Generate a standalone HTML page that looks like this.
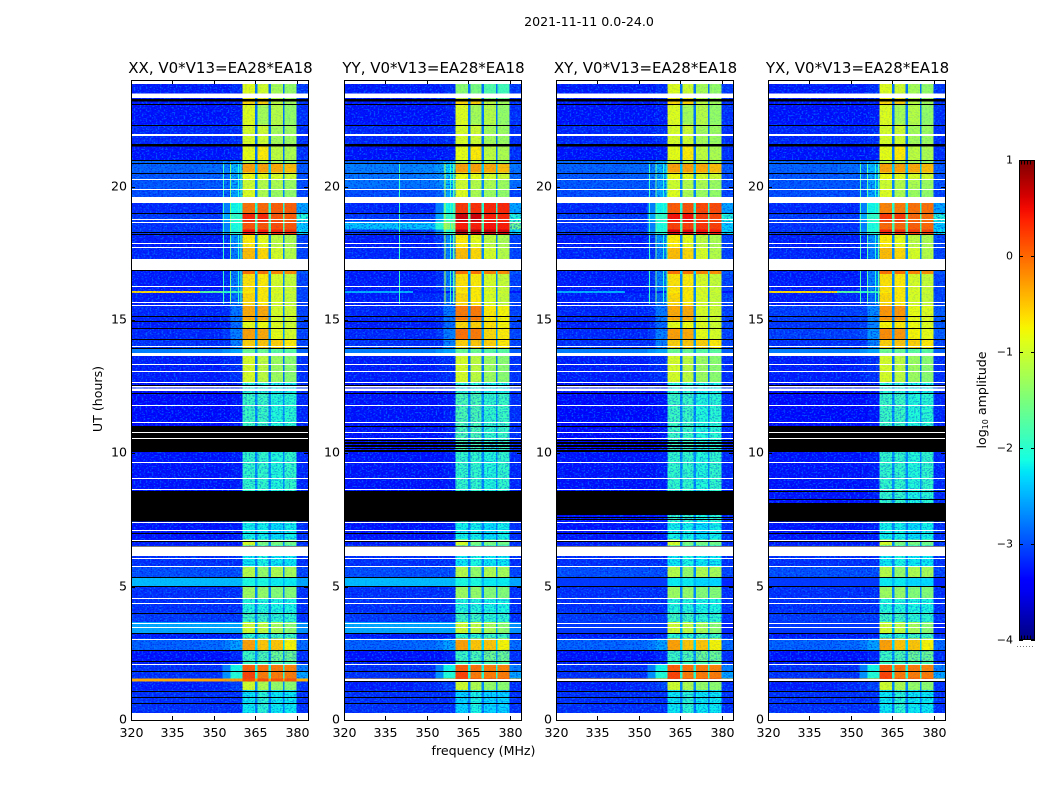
<!DOCTYPE html>
<html lang="en">
<head>
<meta charset="utf-8">
<title>2021-11-11 0.0-24.0</title>
<style>
html,body{margin:0;padding:0;background:#fff;width:1050px;height:800px;overflow:hidden}
svg{display:block}
text{font-family:"DejaVu Sans","Liberation Sans",sans-serif;fill:#000}
</style>
</head>
<body>
<svg id="figure" xmlns="http://www.w3.org/2000/svg" width="1050" height="800" viewBox="0 0 1050 800">
  <defs>
    <filter id="speckle-light" x="0" y="0" width="100%" height="100%" color-interpolation-filters="sRGB">
      <feTurbulence type="fractalNoise" baseFrequency="0.5 0.65" numOctaves="1" seed="4"/>
      <feColorMatrix type="matrix" values="0 0 0 0 0  0 0 0 0 0.58  0 0 0 0 1  7 0 0 0 -3.6"/>
    </filter>
    <filter id="speckle-dark" x="0" y="0" width="100%" height="100%" color-interpolation-filters="sRGB">
      <feTurbulence type="fractalNoise" baseFrequency="0.55 0.7" numOctaves="1" seed="11"/>
      <feColorMatrix type="matrix" values="0 0 0 0 0  0 0 0 0 0  0 0 0 0 0.85  7 0 0 0 -3.6"/>
    </filter>
    <linearGradient id="jet-gradient" x1="0" y1="1" x2="0" y2="0"></linearGradient>
  </defs>
  <text x="589" y="26" font-size="12.6" text-anchor="middle">2021-11-11 0.0-24.0</text>
  <text x="483.5" y="755" font-size="12.6" text-anchor="middle">frequency (MHz)</text>
  <text x="0" y="0" font-size="12.6" text-anchor="middle" transform="translate(102 399) rotate(-90)">UT (hours)</text>
  <text x="0" y="0" font-size="12.6" text-anchor="middle" transform="translate(986 400) rotate(-90)">log<tspan font-size="8" dy="2">10</tspan><tspan dy="-2"> amplitude</tspan></text>
  <g id="panels"></g>
  <g id="colorbar"></g>
</svg>
<script>
// ---------- chart data ----------
const panelTitles = ["XX, V0*V13=EA28*EA18", "YY, V0*V13=EA28*EA18", "XY, V0*V13=EA28*EA18", "YX, V0*V13=EA28*EA18"];
const xTicks = [320, 335, 350, 365, 380];
const yTicks = [0, 5, 10, 15, 20];
const colorbarTicks = [1, 0, -1, -2, -3, -4];

// channel edges in MHz and the amplitude column each channel reads
const channelEdges = [320, 345, 353, 356, 360.4, 364.8, 365.8, 369.8, 370.6, 374.9, 375.5, 379.9, 384];
const channelColumn = [0, 1, 2, 3, 4, 8, 5, 8, 6, 8, 7, 9];

// start (upper) hour of every time block
const rowTopHours = [24, 23.3, 23.1, 22.33, 21.56, 21, 20.87, 20.53, 20.29, 19.93, 19.39, 19, 18.69, 18.4, 18.19, 17.72, 16.88, 16.73, 16.08, 16.02, 15.56, 14.98, 14.7, 14.29, 13.95, 13.65, 12.68, 12.28, 10.05, 8.59, 7.43, 6.77, 6.54, 5.78, 5.36, 4.99, 4.58, 4.05, 3.68, 3.26, 3.06, 2.63, 2.19, 2.1, 1.82, 1.55, 1.45, 1.13];

// log10 amplitude: bg, mid, near1, near2, band1, band2, band3, band4, notch, out
const amplitudeRows = [
[-3.25,-3.25,-3.25,-3.15,-0.9,-1,-1.25,-1.35,-2.8,-3.1],
[-3.25,-3.25,-3.25,-3.2,-0.6,-0.55,-1.1,-1.25,-2.75,-3.15],
[-3.3,-3.3,-3.3,-3.25,-0.9,-1.25,-1.15,-1.35,-2.8,-3.15],
[-3.2,-3.2,-3.2,-3.15,-0.95,-1,-1.25,-1.3,-2.8,-3.15],
[-3.3,-3.3,-3.3,-3.25,-0.85,-0.7,-1.1,-1.2,-2.8,-3.15],
[-2.85,-2.85,-2.75,-2.55,-1.2,-1.2,-1.3,-1.4,-2.75,-2.95],
[-2.9,-2.85,-2.75,-2.45,-0.3,-0.3,-0.35,-0.45,-2.4,-2.95],
[-2.95,-2.9,-2.8,-2.55,-0.8,-0.85,-0.95,-1,-2.6,-3],
[-2.95,-2.95,-2.85,-2.55,-1,-1.15,-1.2,-1.3,-2.7,-3],
[-3,-3,-2.9,-2.55,-0.9,-1.2,-1.3,-1.35,-2.7,-3.05],
[-3.2,-3.2,-2.75,-2.15,-0.05,0,0.05,0.05,-2,-2.55],
[-3.1,-3.1,-2.55,-1.95,0.35,0.35,0.1,0.05,-1.7,-2.05],
[-3.15,-3.15,-2.75,-2.1,0.1,0.1,0.15,0.1,-1.8,-2.35],
[-3.1,-3.05,-2.65,-2.05,0.45,0.4,0.35,0.3,-1.7,-2.25],
[-3.25,-3.25,-3.1,-2.65,-0.7,-0.85,-1.1,-1.2,-2.7,-3.05],
[-3.2,-3.2,-3.15,-2.75,-0.45,-0.6,-0.95,-1.15,-2.7,-3.05],
[-3.25,-3.25,-3.15,-2.75,-0.05,-0.05,-0.15,-0.2,-2.3,-2.95],
[-3.25,-3.25,-3.15,-2.75,-0.65,-0.7,-0.95,-1.05,-2.7,-3.05],
[-0.6,-1.7,-2,-1.9,-0.7,-0.7,-0.9,-1,-2.7,-3.05],
[-3.25,-3.2,-3.15,-2.85,-0.6,-0.7,-0.95,-1.05,-2.7,-3.05],
[-3.2,-3.2,-3.15,-2.8,-0.35,-0.35,-0.95,-1,-2.7,-3.05],
[-3.25,-3.25,-3.2,-2.85,-0.85,-0.8,-0.9,-1,-2.7,-3.05],
[-3.2,-3.2,-3.1,-2.75,-0.3,-0.35,-0.85,-0.95,-2.6,-3.05],
[-3.15,-3.15,-3.15,-2.75,-0.55,-0.5,-0.55,-0.7,-2.6,-3.05],
[-2.75,-2.75,-2.65,-2.55,-1.6,-1.6,-1.7,-1.7,-2.6,-2.9],
[-3.25,-3.25,-3.2,-3.15,-0.95,-1.1,-1.3,-1.4,-2.8,-3.15],
[-3.3,-3.3,-3.3,-3.25,-2.05,-2.05,-2.15,-2.15,-2.7,-3.15],
[-3.35,-3.35,-3.35,-3.3,-1.9,-1.9,-2.05,-2,-2.65,-3.2],
[-3.3,-3.3,-3.3,-3.25,-1.95,-1.95,-2.05,-1.95,-2.65,-3.2],
[-3.3,-3.3,-3.3,-3.25,-1.95,-1.95,-2.1,-2,-2.65,-3.2],
[-3.3,-3.3,-3.3,-3.25,-2.15,-2.15,-2.25,-2.15,-2.7,-3.15],
[-3.25,-3.25,-3.25,-3.25,-0.95,-1.5,-1.5,-1.55,-2.7,-3.15],
[-3.15,-3.15,-3.15,-3.15,-2.2,-2.1,-2.2,-2.2,-2.7,-3.15],
[-3,-3,-3,-3,-1.15,-1.35,-1.2,-1.25,-2.7,-3.05],
[-2.45,-2.45,-2.45,-2.45,-2.1,-2.1,-2.2,-2.2,-2.45,-2.55],
[-3.15,-3.15,-3.15,-3.15,-1.3,-1.35,-1.45,-1.45,-2.7,-3.15],
[-3.15,-3.15,-3.15,-3.15,-2.05,-2.05,-2.1,-2.1,-2.7,-3.15],
[-3.1,-3.1,-3.1,-3.1,-1.9,-1.9,-2,-2,-2.65,-3.15],
[-2.55,-2.55,-2.55,-2.55,-1,-1.1,-1.25,-1.4,-2.5,-2.65],
[-3.25,-3.25,-3.25,-3.2,-2,-2,-1.9,-1.9,-2.7,-3.15],
[-2.9,-2.85,-2.75,-2.55,-0.3,-0.5,-0.5,-0.75,-2.3,-2.85],
[-3.3,-3.3,-3.3,-3.2,-1.9,-1.8,-1.6,-1.6,-2.6,-3.15],
[-3.25,-3.25,-3.2,-3.15,-1.9,-1.9,-1.8,-1.8,-2.6,-3.15],
[-3.15,-3.15,-2.75,-2.15,0.05,-0.05,-0.1,-0.15,-2.1,-2.75],
[-3.15,-3.15,-2.65,-2.05,0.2,-0.1,-0.1,-0.1,-2,-2.55],
[-0.35,-0.3,-0.3,-0.3,0.15,0.15,0.1,0.1,-0.3,-0.4],
[-3.25,-3.2,-3.15,-3.05,-1,-1.2,-1.35,-1.4,-2.7,-3.15],
[-3.15,-3.15,-3.15,-3.15,-2.2,-2,-2.2,-2.2,-2.75,-3.15]
];

// polarisation differences: panel, upper hour, lower hour, background delta, band delta
const panelAdjustments = [
[1,24,23.3,0,-0.5],[1,20.9,19.4,0.15,0],[1,19.39,18.19,0,0.3],[1,18.69,18.4,0.75,0],
[1,16.08,16.02,-1.9,0],[1,15.6,13.96,0,0.25],[1,12.3,8.6,0.05,0.1],[1,1.13,0,0,-0.1],
[2,19.39,18.19,0,0.12],[2,16.08,16.02,-1.9,0],[2,5.36,4.99,-0.65,-0.1],[2,3.68,3.26,-0.55,0],
[3,19.39,18.19,0,-0.1],[3,15.6,14,0.12,0.1],[3,5.36,4.99,-0.65,-0.1],[3,3.68,3.26,-0.55,0]
];
const backgroundFloor = -3.3;

// narrow interference: panel, MHz, upper hour, lower hour, log10 amplitude
const rfiLines = [
[0,353.3,20.9,15.6,-1.9],[0,355.8,20.9,15.6,-1.5],[0,358.6,20.9,15.6,-2],[0,359.6,20.9,15.6,-1.9],
[1,339.9,20.9,15.6,-1.9],[1,356.3,20.9,15.6,-1.1],[1,358.3,20.9,15.6,-1.9],[1,359.5,20.9,15.6,-1.7],
[2,353.6,20.9,15.6,-1.9],[2,356,20.9,15.6,-1.6],[2,358.6,20.9,15.6,-2],[2,360,20.9,15.6,-1.9],
[3,353.2,20.9,15.6,-1.8],[3,355.8,20.9,15.6,-1.7],[3,358.6,20.9,15.6,-2],[3,359.8,20.9,15.6,-1.9]
];

// flagged (no-data) hours shown in white, common to every panel
const whiteBands = [[24,23.85],[23.49,23.32],[19.61,19.39],[17.29,16.88],[13.76,13.65],[12.52,12.47],[12.43,12.33],[6.51,6.15],[0.26,0]];
const whiteLines = [21.98,21.92,20.29,19.93,18.79,18.69,17.89,17.72,16.28,15.68,15.56,14.04,13.35,13.09,12.68,11.81,11.18,9.68,9.08,8.66,7.43,7.13,6.75,6.06,5.78,4.57,4.39,3.65,3.48,3.05,2.1];

// flagged hours shown in black, common to every panel
const blackBands = [[23.28,23.2],[21.6,21.5]];
const blackLines = [23.1,22.33,21,20.87,20.53,19,18.3,18.22,16.88,15.15,14.98,14.7,14.29,13.95,12.55,12.28,7,6.7,6.54,5.37,5.02,4.03,3.27,2.63,2.23,1.83,1.1,0.85,0.64];

// panel specific flags
const panelWhiteLines = [[10.8,10.56],[10.8,10.56],[10.8,10.56],[10.8,10.56]];
const panelWhiteBands = [[],[[1.53,1.47]],[[1.53,1.47]],[[1.53,1.47]]];
const panelBlackBands = [
  [[11.03,10.05],[8.59,7.44]],
  [[8.59,7.44],[1.46,1.42]],
  [[8.59,7.69],[1.46,1.42]],
  [[11.03,10.05],[8.14,7.44],[1.46,1.42]]
];
const panelBlackLines = [
  [],
  [11.02,10.5,10.44,10.38,10.32,10.26,10.2,10.14,10.08],
  [11.02,10.5,10.44,10.38,10.32,10.26,10.2,10.14,10.08,7.62,7.54],
  [8.59,8.3]
];

// texture regions: upper hour, lower hour, MHz limit of the off-band noise
const bgNoiseRegions = [[24,19.39,360.4],[19.39,18.19,353],[18.19,16.08,360.4],[16.02,13.95,360.4],[13.65,5.36,360.4],[4.99,3.68,360.4],[3.26,2.1,360.4],[2.1,1.55,353],[1.45,0,360.4]];
const bandNoiseHours = [[12.68,6.77],[6.54,5.78],[4.58,3.68],[3.26,3.06],[2.63,2.19],[1.13,0]];
const softStripHours = [[16.08,16.02],[13.95,13.65],[5.36,4.99],[3.68,3.26]];

// ---------- scales ----------
const panelLefts = [131, 344, 556, 768];
const plotTop = 80, plotBottom = 720, plotWidth = 177;
const freqMin = 320, freqMax = 384, hourMax = 24;
const bandStart = 360.4, bandEnd = 379.9, nearStart = 353;
const cbLeft = 1019, cbRight = 1035, cbTop = 160, cbBottom = 640;
const cbMin = -4, cbMax = 1;
function xScale(panel, f){ return panelLefts[panel] + (f - freqMin) / (freqMax - freqMin) * plotWidth; }
function yScale(h){ return plotBottom - h / hourMax * (plotBottom - plotTop); }
function cbScale(v){ return cbBottom - (v - cbMin) / (cbMax - cbMin) * (cbBottom - cbTop); }

function jet(t){
  t = Math.max(0, Math.min(1, t));
  let r = t < .35 ? 0 : t < .66 ? (t - .35) / .31 : t < .89 ? 1 : 1 - (t - .89) / .11 * .5;
  let g = t < .125 ? 0 : t < .375 ? (t - .125) / .25 : t < .64 ? 1 : t < .91 ? 1 - (t - .64) / .27 : 0;
  let b = t < .11 ? .5 + t / .11 * .5 : t < .34 ? 1 : t < .65 ? 1 - (t - .34) / .31 : 0;
  return "rgb(" + Math.round(r * 255) + "," + Math.round(g * 255) + "," + Math.round(b * 255) + ")";
}
function amplitudeColor(v){ return jet((v - cbMin) / (cbMax - cbMin)); }

const NS = "http://www.w3.org/2000/svg";
function make(parent, tag, attrs){
  const el = document.createElementNS(NS, tag);
  for (const k in attrs) el.setAttribute(k, attrs[k]);
  parent.appendChild(el);
  return el;
}
function band(parent, panel, hTop, hBot, f0, f1, fill){
  const x0 = xScale(panel, f0), x1 = xScale(panel, f1), y0 = yScale(hTop), y1 = yScale(hBot);
  return make(parent, "rect", {x: x0, y: y0, width: x1 - x0, height: y1 - y0, fill: fill, "shape-rendering": "crispEdges"});
}
function adjustedValue(panel, hTop, hBot, col, v){
  let out = v;
  const isBand = col >= 4 && col <= 7;
  const isBg = col <= 3 || col === 9;
  for (const a of panelAdjustments) {
    if (a[0] !== panel) continue;
    if (hTop > a[1] + 1e-6 || hBot < a[2] - 1e-6) continue;
    if (isBand) out += a[4];
    if (isBg) out += a[3];
  }
  if (isBg) out = Math.max(out, Math.min(v, backgroundFloor));
  return out;
}

const panelsRoot = document.getElementById("panels");
panelTitles.forEach(function(title, p){
  const g = make(panelsRoot, "g", {});
  
  

  const clipId = "clip-" + p;
  const clip = make(g, "clipPath", {id: clipId});
  make(clip, "rect", {x: panelLefts[p], y: plotTop, width: plotWidth, height: plotBottom - plotTop});

  const bgClip = make(g, "clipPath", {id: "bg-noise-clip-" + p});
  bgNoiseRegions.forEach(function(r){
    band(bgClip, p, r[0], r[1], freqMin, r[2], "#000");
    band(bgClip, p, r[0], r[1], bandEnd, freqMax, "#000");
  });
  const bandClip = make(g, "clipPath", {id: "band-noise-clip-" + p});
  bandNoiseHours.forEach(function(r){
    band(bandClip, p, r[0], r[1], bandStart, bandEnd, "#000");
  });
  const softClip = make(g, "clipPath", {id: "soft-noise-clip-" + p});
  band(softClip, p, hourMax, 0, nearStart, bandEnd, "#000");
  softStripHours.forEach(function(r){
    band(softClip, p, r[0], r[1], freqMin, freqMax, "#000");
  });

  const heat = make(g, "g", {"clip-path": "url(#" + clipId + ")"});
  
  

  rowTopHours.forEach(function(hTop, r){
    const hBot = r + 1 < rowTopHours.length ? rowTopHours[r + 1] : 0;
    channelColumn.forEach(function(col, c){
      const v = adjustedValue(p, hTop, hBot, col, amplitudeRows[r][col]);
      const cell = band(heat, p, hTop, hBot, channelEdges[c], channelEdges[c + 1], amplitudeColor(v));
      
      
    });
  });

  function addNoise(clipName, strength){
    const noise = make(heat, "g", {"clip-path": "url(#" + clipName + ")", opacity: strength});
    
    
    const light = make(noise, "rect", {x: panelLefts[p], y: plotTop, width: plotWidth, height: plotBottom - plotTop, filter: "url(#speckle-light)", opacity: .5});
    
    
    const dark = make(noise, "rect", {x: panelLefts[p], y: plotTop, width: plotWidth, height: plotBottom - plotTop, filter: "url(#speckle-dark)", opacity: .42});
    
    
  }
  addNoise("bg-noise-clip-" + p, 1);
  addNoise("band-noise-clip-" + p, .6);
  addNoise("soft-noise-clip-" + p, .22);

  rfiLines.filter(function(l){ return l[0] === p; }).forEach(function(l){
    const line = band(heat, p, l[2], l[3], l[1], l[1] + 0.38, amplitudeColor(l[4]));
    
    
  });

  function flagBand(range, fill){
    const f = band(heat, p, range[0], range[1], freqMin, freqMax, fill);
    
    
  }
  function flagLine(h, fill){
    const y = Math.round(yScale(h));
    const f = make(heat, "rect", {x: panelLefts[p], y: y, width: plotWidth, height: 1, fill: fill, "shape-rendering": "crispEdges"});
    
    
  }
  blackBands.forEach(function(b){ flagBand(b, "#000"); });
  panelBlackBands[p].forEach(function(b){ flagBand(b, "#000"); });
  blackLines.forEach(function(h){ flagLine(h, "#000"); });
  panelBlackLines[p].forEach(function(h){ flagLine(h, "#000"); });
  whiteBands.forEach(function(b){ flagBand(b, "#fff"); });
  panelWhiteBands[p].forEach(function(b){ flagBand(b, "#fff"); });
  whiteLines.forEach(function(h){ flagLine(h, "#fff"); });
  panelWhiteLines[p].forEach(function(h){ flagLine(h, "#fff"); });

  const frame = make(g, "rect", {x: panelLefts[p] + .5, y: plotTop + .5, width: plotWidth, height: plotBottom - plotTop, fill: "none", stroke: "#000", "stroke-width": 1, "shape-rendering": "crispEdges"});
  
  

  xTicks.forEach(function(t){
    const x = Math.round(xScale(p, t)) + .5;
    const tb = make(g, "line", {x1: x, x2: x, y1: plotBottom, y2: plotBottom - 4, stroke: "#000", "shape-rendering": "crispEdges"});
    
    
    const tt = make(g, "line", {x1: x, x2: x, y1: plotTop, y2: plotTop + 4, stroke: "#000", "shape-rendering": "crispEdges"});
    
    
    const lab = make(g, "text", {x: x, y: 737, "font-size": 12.6, "text-anchor": "middle"});
    lab.textContent = t;
    
    
  });
  yTicks.forEach(function(t){
    const y = Math.round(yScale(t)) + .5;
    const left = panelLefts[p];
    const tl = make(g, "line", {x1: left, x2: left + 4, y1: y, y2: y, stroke: "#000", "shape-rendering": "crispEdges"});
    
    
    const tr = make(g, "line", {x1: left + plotWidth, x2: left + plotWidth - 4, y1: y, y2: y, stroke: "#000", "shape-rendering": "crispEdges"});
    
    
    const lab = make(g, "text", {x: left - 4, y: y + 3, "font-size": 12.6, "text-anchor": "end"});
    lab.textContent = t;
    
    
  });
  const ttl = make(g, "text", {x: panelLefts[p] + plotWidth / 2 + 1, y: 73, "font-size": 15, "text-anchor": "middle"});
  ttl.textContent = title;
  
  
});

// ---------- colorbar ----------
const grad = document.getElementById("jet-gradient");
for (let i = 0; i <= 40; i++) {
  make(grad, "stop", {offset: (i / 40), "stop-color": jet(i / 40)});
}
const cb = document.getElementById("colorbar");
const cbRect = make(cb, "rect", {x: cbLeft + .5, y: cbTop + .5, width: cbRight - cbLeft - 1, height: cbBottom - cbTop - 1, fill: "url(#jet-gradient)", stroke: "#000", "stroke-width": 1, "shape-rendering": "crispEdges"});


colorbarTicks.forEach(function(t){
  const y = Math.round(cbScale(t)) + .5;
  const a = make(cb, "line", {x1: cbLeft, x2: cbLeft + 4, y1: y, y2: y, stroke: "#000", "shape-rendering": "crispEdges"});
  
  
  const b = make(cb, "line", {x1: cbRight, x2: cbRight - 4, y1: y, y2: y, stroke: "#000", "shape-rendering": "crispEdges"});
  
  
  const lab = make(cb, "text", {x: 1013, y: y + 3, "font-size": 11, "text-anchor": "end"});
  lab.textContent = String(t).replace("-", "\u2212");
  
  
});
const cbEdgeTicks = make(cb, "path", {d: "", fill: "none", stroke: "#000", "stroke-width": 1, "shape-rendering": "crispEdges", "stroke-dasharray": "1 2"});
cbEdgeTicks.setAttribute('d', 'M' + (cbLeft + 2) + ' ' + (cbTop + 2.5) + 'H' + (cbRight - 2) + 'M' + (cbLeft + 2) + ' ' + (cbBottom - 2.5) + 'H' + (cbRight - 2));
cbEdgeTicks.setAttribute('stroke-width', '4');


const dots = make(cb, "line", {x1: 1017, x2: 1035, y1: 646.5, y2: 646.5, stroke: "#777", "stroke-dasharray": "1 2", "shape-rendering": "crispEdges"});


</script>
</body>
</html>
